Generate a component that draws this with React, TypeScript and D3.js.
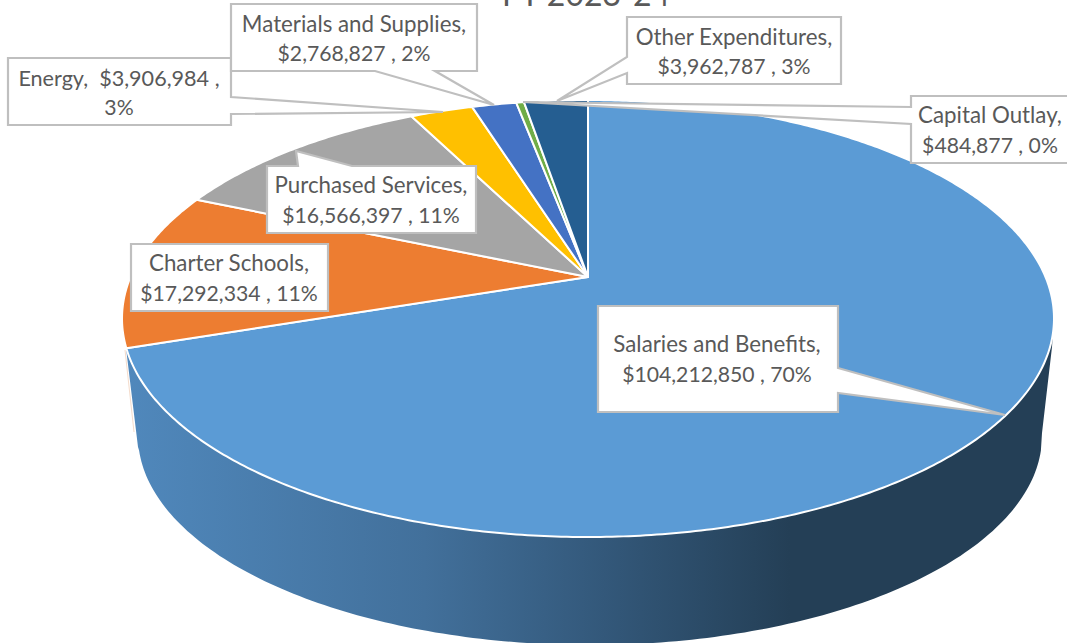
import React from "react";
import * as d3 from "d3";

const categories = ["Salaries and Benefits", "Charter Schools", "Purchased Services", "Energy", "Materials and Supplies", "Capital Outlay", "Other Expenditures"];
const amounts = [104212850, 17292334, 16566397, 3906984, 2768827, 484877, 3962787];
const percentLabels = ["70%", "11%", "11%", "3%", "2%", "0%", "3%"];
const sliceColors = ["#5B9BD5", "#ED7D31", "#A5A5A5", "#FFC000", "#4472C4", "#70AD47", "#255E91"];
const titleText = "FY 2023-24";

// Perspective disc: the apex of the pie sits behind the visual centre of the ellipse
const APEX_X = 588, APEX_Y = 277, DISC_R = 457.5, DISC_A = 210.6, PERSP = 0.19;
const project = (t: number): [number, number] => {
  const u = Math.sin(t), v = Math.cos(t), s = 1 / (1 + PERSP * v);
  return [APEX_X + DISC_R * u * s, APEX_Y - DISC_A * v * s];
};
const arcPoints = (a: number, b: number) => {
  const n = Math.max(2, Math.ceil((b - a) / 0.01));
  return d3.range(n + 1).map((i) => project(a + ((b - a) * i) / n));
};
const line = d3.line();

const pie = d3.pie<number>().sort(null).startAngle(0).endAngle(2 * Math.PI);
const arcs = pie(amounts);

// Side wall of the pie
const BOT_X = 590, BOT_Y = 436, BOT_RX = 452, BOT_RY = 209;
const wallPath = (() => {
  const pts: [number, number][] = [[1052, 347], ...arcPoints(1.76, arcs[0].endAngle), [126, 348], [138, 447]];
  const lower = d3.range(4, 177).map((i): [number, number] => {
    const a = (Math.PI * i) / 180;
    return [BOT_X - BOT_RX * Math.cos(a), BOT_Y + BOT_RY * Math.sin(a)];
  });
  return line([...pts, ...lower, [1042, 433]]) + "Z";
})();

// Callout layout, in drawing order
type Callout = { i: number; poly: [number, number][]; cx: number; y1: number; y2: number; l1?: string; l2?: string };
const callouts: Callout[] = [
  { i: 0, cx: 717, y1: 344, y2: 374, poly: [[598, 306], [838, 306], [838, 368], [1005, 415], [838, 393], [838, 412], [598, 412]] },
  { i: 1, cx: 229, y1: 263, y2: 293, poly: [[131, 244], [328, 244], [328, 311], [131, 311]] },
  { i: 2, cx: 371, y1: 185, y2: 215, poly: [[267, 166], [298, 166], [296, 151], [352, 166], [476, 166], [476, 233], [267, 233]] },
  { i: 3, cx: 119, y1: 78, y2: 107, l1: "Energy,  $3,906,984 ,", l2: "3%", poly: [[8, 58], [231, 58], [231, 97], [443, 112], [231, 114], [231, 125], [8, 125]] },
  { i: 4, cx: 354, y1: 24, y2: 53, poly: [[231, 4], [477, 4], [477, 71], [435, 71], [494, 105], [375, 71], [231, 71]] },
  { i: 5, cx: 990, y1: 115, y2: 145, poly: [[911, 96], [1070, 96], [1070, 163], [911, 163], [911, 124], [523, 102], [911, 107]] },
  { i: 6, cx: 734, y1: 37, y2: 66, poly: [[627, 17], [841, 17], [841, 84], [627, 84], [627, 73], [557, 101], [627, 57]] },
];

const money = d3.format("$,");

export default function App() {
  return (
    <svg width={1067} height={643} viewBox="0 0 1067 643" style={{ position: "absolute", left: 0, top: 0, background: "#fff" }}>
      <defs>
        <linearGradient id="wall" gradientUnits="userSpaceOnUse" x1={126} x2={790} y1={0} y2={0}>
          <stop offset="0" stopColor="#5088BC" />
          <stop offset="0.45" stopColor="#42709B" />
          <stop offset="0.72" stopColor="#33587A" />
          <stop offset="1" stopColor="#243F56" />
        </linearGradient>
      </defs>
      <text x={586} y={6} textAnchor="middle" fontFamily="Lato" fontSize={32} fill="#595959">{titleText}</text>
      <path d={wallPath} fill="url(#wall)" />
      <path d={line([[125, 350], [134, 432]]) as string} stroke="#F5DCCB" strokeWidth={1} fill="none" />
      {arcs.map((a, i) => (
        <path
          key={categories[i]}
          d={line([[APEX_X, APEX_Y], ...arcPoints(a.startAngle, a.endAngle)]) + "Z"}
          fill={sliceColors[i]}
          stroke="#fff"
          strokeWidth={2}
          strokeLinejoin="round"
        />
      ))}
      {callouts.map((c) => (
        <g key={c.i}>
          <path d={line(c.poly) + "Z"} fill="#fff" stroke="#BFBFBF" strokeWidth={2.2} />
          <g fontFamily="Lato" fill="#595959" textAnchor="middle">
            <text x={c.cx} y={c.y1 + 7.5} fontSize={c.l1 ? 21.6 : 22.3} style={{ whiteSpace: "pre" }}>{c.l1 ?? `${categories[c.i]},`}</text>
            <text x={c.cx} y={c.y2 + 7.5} fontSize={21.2} style={{ whiteSpace: "pre" }}>{c.l2 ?? `${money(amounts[c.i])} , ${percentLabels[c.i]}`}</text>
          </g>
        </g>
      ))}
    </svg>
  );
}
